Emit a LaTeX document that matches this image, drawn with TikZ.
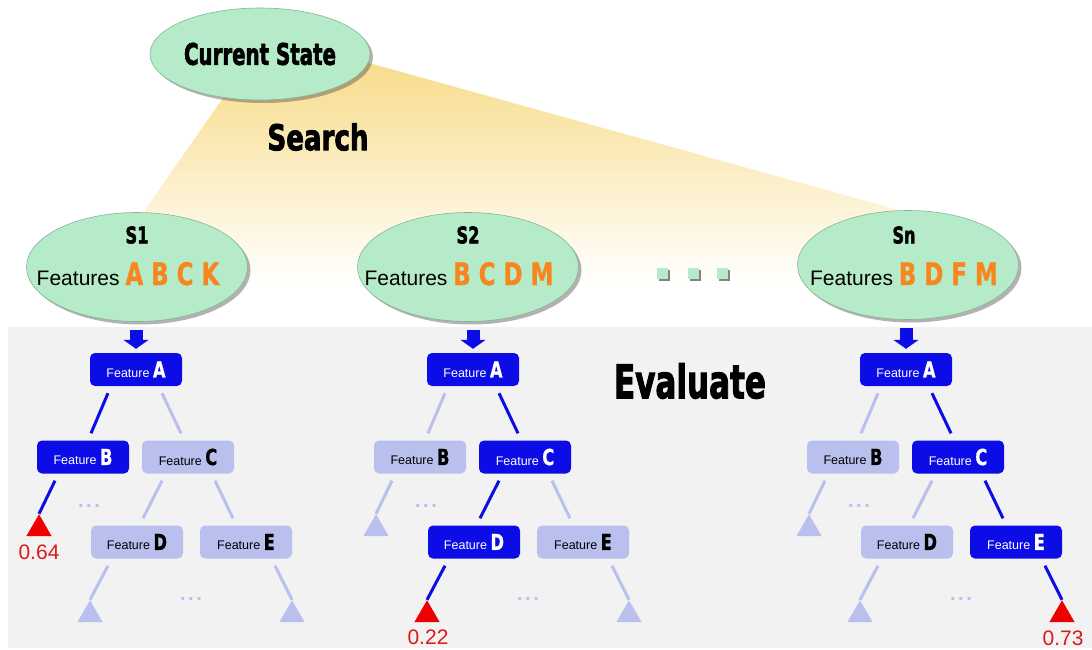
\documentclass[tikz,border=0pt]{standalone}
\usepackage{fontspec}
\usepackage{graphicx}
\setmainfont{Liberation Sans}
\newfontfamily\headfont{DejaVu Sans}[FakeBold=2.6]
\newfontfamily\letterfont{DejaVu Sans}[FakeStretch=0.74,FakeBold=0.8]
\usetikzlibrary{calc,arrows.meta,shapes.geometric,shadows}

\definecolor{mint}{RGB}{181,235,200}
\definecolor{mintedge}{RGB}{135,180,150}
\definecolor{fan}{RGB}{248,220,138}
\definecolor{panel}{RGB}{242,242,242}
\definecolor{deep}{RGB}{12,12,230}
\definecolor{pale}{RGB}{186,192,238}
\definecolor{hot}{RGB}{238,0,0}
\definecolor{hotlabel}{RGB}{222,25,25}
\definecolor{tangerine}{RGB}{247,134,30}

% heavy condensed heading squeezed into a given width and height
\newcommand\heavy[3]{\resizebox{#1}{#2}{\headfont\bfseries #3}}
% feature letter inside a tree box
\newcommand\ltr[1]{{\letterfont\bfseries\fontsize{22}{22}\selectfont #1}}
% feature letters listed under a candidate state
\newcommand\picks[1]{{\color{tangerine}\letterfont\bfseries\fontsize{31}{31}\selectfont #1}}
% three spaced dots for omitted branches
\newcommand\gapdots{.\kern2.6pt.\kern2.6pt.}

\pgfdeclarelayer{back}
\pgfdeclarelayer{mid}
\pgfsetlayers{back,mid,main}

\begin{document}
\begin{tikzpicture}[x=1pt,y=-1pt,
  state/.style={ellipse, fill=mint, draw=mintedge, line width=0.6pt, inner sep=0pt,
    drop shadow={shadow xshift=3pt, shadow yshift=-3pt, fill=black!75, opacity=0.4}},
  featbox/.style={rounded corners=5pt, minimum width=92pt, minimum height=33pt,
    inner sep=0pt, font=\fontsize{12.5}{14}\selectfont},
  on/.style={featbox, fill=deep, text=white},
  off/.style={featbox, fill=pale, text=black},
  hotedge/.style={draw=deep, line width=3pt},
  coldedge/.style={draw=pale, line width=3pt},
  leaf/.style={regular polygon, regular polygon sides=3, minimum size=29pt, inner sep=0pt},
  hotleaf/.style={leaf, fill=hot},
  coldleaf/.style={leaf, fill=pale},
  score/.style={text=hotlabel, font=\fontsize{21}{22}\selectfont},
  more/.style={text=pale, font=\fontsize{20}{20}\selectfont\bfseries, anchor=base},
  drop/.style={draw=deep, line width=13pt, -{Triangle[width=25pt,length=9pt]}},
  square/.style={fill=mint, minimum size=11pt, inner sep=0pt,
    drop shadow={shadow xshift=2pt, shadow yshift=-2pt, fill=black!80, opacity=0.6}},
  featrow/.style={anchor=base, font=\fontsize{21}{22}\selectfont, inner sep=0pt}
]
\useasboundingbox (0,0) rectangle (1092,650);

\begin{pgfonlayer}{back}
  \fill[white] (0,0) rectangle (1092,650);
  \fill[panel] (8,327) rectangle (1092,648);
  % search fan from the current state down to the candidates
  \shade[top color=fan, middle color=fan!92, bottom color=white]
    (232,85) -- (358,60) -- (906,212) -- (800,284) -- (250,284) -- (145,210) -- cycle;
\end{pgfonlayer}

% current state and candidate states
\node[state, minimum width=220pt, minimum height=92pt] (cur) at (260,54)
  {\heavy{152pt}{22pt}{Current State}};
\node at (318,137) {\heavy{101pt}{27pt}{Search}};
\node at (690,381) {\heavy{152pt}{35pt}{Evaluate}};

\node[state, minimum width=221pt, minimum height=109pt] (s1) at (137,267) {};
\node[state, minimum width=221pt, minimum height=109pt] (s2) at (468,267) {};
\node[state, minimum width=221pt, minimum height=109pt] (sn) at (908,265) {};

\node at ($(s1)+(0,-32)$) {\heavy{23pt}{17pt}{S1}};
\node at ($(s2)+(0,-32)$) {\heavy{23pt}{17pt}{S2}};
\node at ($(sn)+(-4,-30)$) {\heavy{23pt}{17pt}{Sn}};

\node[featrow] at ($(s1)+(-9,18)$) {Features \picks{A B C K}};
\node[featrow] at ($(s2)+(-9,18)$) {Features \picks{B C D M}};
\node[featrow] at ($(sn)+(-4,20)$) {Features \picks{B D F M}};

\node[square] (g1) at (662,273) {};
\node[square] (g2) at (693,273) {};
\node[square] (g3) at (722,273) {};

% ---- tree under S1: path A -> B -> leaf
\begin{scope}[shift={(136,0)}]
  \node[on]  (aA) at (0,369.5) {Feature \ltr{A}};
  \node[on]  (aB) at (-53,457) {Feature \ltr{B}};
  \node[off] (aC) at (52,457)  {Feature \ltr{C}};
  \node[off] (aD) at (1,542)   {Feature \ltr{D}};
  \node[off] (aE) at (110,542) {Feature \ltr{E}};
  \node[hotleaf]  (aLB) at (-97,528.75) {};
  \node[coldleaf] (aLD) at (-46,614.75) {};
  \node[coldleaf] (aLE) at (156,614.75) {};
  \node[more] at (-47,507) {\gapdots};
  \node[more] at (55,600) {\gapdots};
  \node[score] at (-97,552) {0.64};
\end{scope}
\begin{pgfonlayer}{mid}
  \draw[drop] ($(aA.north |- s1.south)+(0,8)$) -- ($(aA.north)+(0,-4)$);
  \draw[hotedge]  ($(aA.south)+(-28,7)$) -- ($(aB.north)+(8,-7)$);
  \draw[coldedge] ($(aA.south)+(26,7)$)  -- ($(aC.north)+(-7,-7)$);
  \draw[coldedge] ($(aC.south)+(-26,7)$) -- ($(aD.north)+(6,-7)$);
  \draw[coldedge] ($(aC.south)+(27,7)$)  -- ($(aE.north)+(-13,-7)$);
  \draw[hotedge]  ($(aB.south)+(-28,7)$) -- (aLB.corner 1);
  \draw[coldedge] ($(aD.south)+(-29,7)$) -- (aLD.corner 1);
  \draw[coldedge] ($(aE.south)+(29,7)$)  -- (aLE.corner 1);
\end{pgfonlayer}

% ---- tree under S2: path A -> C -> D -> leaf
\begin{scope}[shift={(473,0)}]
  \node[on]  (bA) at (0,369.5) {Feature \ltr{A}};
  \node[off] (bB) at (-53,457) {Feature \ltr{B}};
  \node[on]  (bC) at (52,457)  {Feature \ltr{C}};
  \node[on]  (bD) at (1,542)   {Feature \ltr{D}};
  \node[off] (bE) at (110,542) {Feature \ltr{E}};
  \node[coldleaf] (bLB) at (-97,528.75) {};
  \node[hotleaf]  (bLD) at (-46,614.75) {};
  \node[coldleaf] (bLE) at (156,614.75) {};
  \node[more] at (-47,507) {\gapdots};
  \node[more] at (55,600) {\gapdots};
  \node[score] at (-45,637) {0.22};
\end{scope}
\begin{pgfonlayer}{mid}
  \draw[drop] ($(bA.north |- s2.south)+(0,8)$) -- ($(bA.north)+(0,-4)$);
  \draw[coldedge] ($(bA.south)+(-28,7)$) -- ($(bB.north)+(8,-7)$);
  \draw[hotedge]  ($(bA.south)+(26,7)$)  -- ($(bC.north)+(-7,-7)$);
  \draw[hotedge]  ($(bC.south)+(-26,7)$) -- ($(bD.north)+(6,-7)$);
  \draw[coldedge] ($(bC.south)+(27,7)$)  -- ($(bE.north)+(-13,-7)$);
  \draw[coldedge] ($(bB.south)+(-28,7)$) -- (bLB.corner 1);
  \draw[hotedge]  ($(bD.south)+(-29,7)$) -- (bLD.corner 1);
  \draw[coldedge] ($(bE.south)+(29,7)$)  -- (bLE.corner 1);
\end{pgfonlayer}

% ---- tree under Sn: path A -> C -> E -> leaf
\begin{scope}[shift={(906,0)}]
  \node[on]  (cA) at (0,369.5) {Feature \ltr{A}};
  \node[off] (cB) at (-53,457) {Feature \ltr{B}};
  \node[on]  (cC) at (52,457)  {Feature \ltr{C}};
  \node[off] (cD) at (1,542)   {Feature \ltr{D}};
  \node[on]  (cE) at (110,542) {Feature \ltr{E}};
  \node[coldleaf] (cLB) at (-97,528.75) {};
  \node[coldleaf] (cLD) at (-46,614.75) {};
  \node[hotleaf]  (cLE) at (156,614.75) {};
  \node[more] at (-47,507) {\gapdots};
  \node[more] at (55,600) {\gapdots};
  \node[score] at (157,638) {0.73};
\end{scope}
\begin{pgfonlayer}{mid}
  \draw[drop] ($(cA.north |- sn.south)+(0,8)$) -- ($(cA.north)+(0,-4)$);
  \draw[coldedge] ($(cA.south)+(-28,7)$) -- ($(cB.north)+(8,-7)$);
  \draw[hotedge]  ($(cA.south)+(26,7)$)  -- ($(cC.north)+(-7,-7)$);
  \draw[coldedge] ($(cC.south)+(-26,7)$) -- ($(cD.north)+(6,-7)$);
  \draw[hotedge]  ($(cC.south)+(27,7)$)  -- ($(cE.north)+(-13,-7)$);
  \draw[coldedge] ($(cB.south)+(-28,7)$) -- (cLB.corner 1);
  \draw[coldedge] ($(cD.south)+(-29,7)$) -- (cLD.corner 1);
  \draw[hotedge]  ($(cE.south)+(29,7)$)  -- (cLE.corner 1);
\end{pgfonlayer}
\end{tikzpicture}
\end{document}
